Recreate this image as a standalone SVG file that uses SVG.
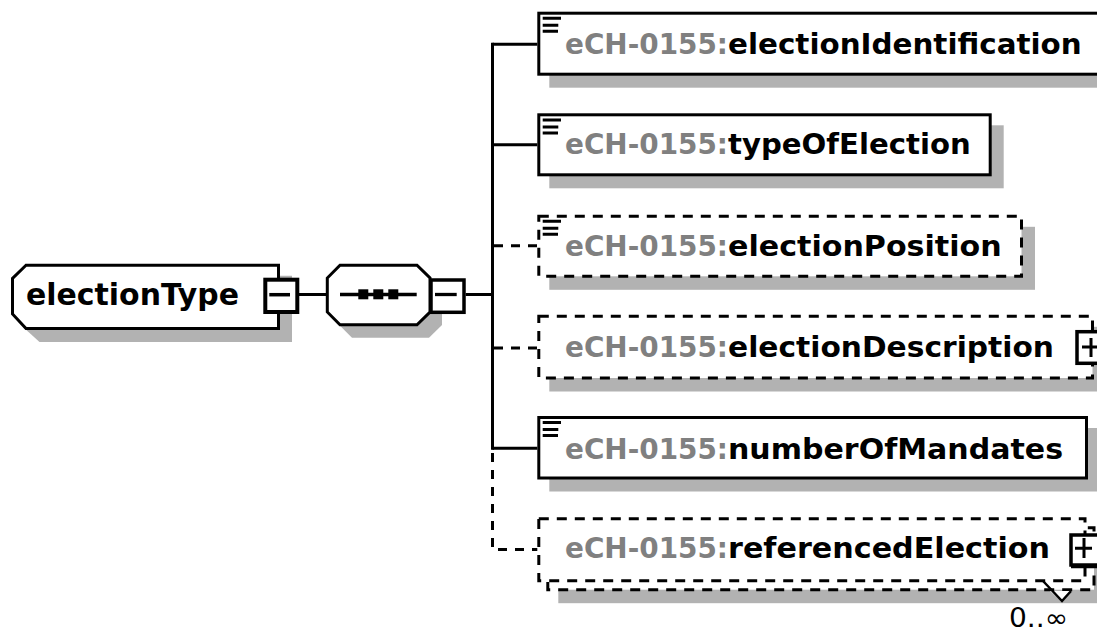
<svg xmlns="http://www.w3.org/2000/svg" width="1097" height="633" viewBox="0 0 1097 633">
<style>
.sh{fill:#b2b2b2;stroke:none}
.bx{fill:#fff;stroke:#000;stroke-width:3}
.opt{stroke-dasharray:10 8}
.ln{fill:none;stroke:#000;stroke-width:3}
.dl{fill:none;stroke:#000;stroke-width:3;stroke-dasharray:9 8}
.tb{fill:#fff;stroke:#000;stroke-width:3.5}
.t{font-family:"DejaVu Sans",Verdana,sans-serif;font-weight:bold;font-size:29px}
.pre{fill:#808080}
.nm{fill:#000}
.oc{font-family:"DejaVu Sans",Verdana,sans-serif;font-size:26px;fill:#000}
</style>
<defs>
<path id="ico" d="M542.7,18.3 H561 M542.7,25.3 H558.3 M542.7,31.3 H558" fill="none" stroke="#000" stroke-width="3"/>
</defs>
<rect width="1097" height="633" fill="#fff"/>

<g id="connectors">
<line class="ln" x1="299" y1="294.5" x2="327" y2="294.5"/>
<line class="ln" x1="465.7" y1="294.5" x2="492.5" y2="294.5"/>
<line class="ln" x1="492.5" y1="42.7" x2="492.5" y2="449.8"/>
<line class="ln" x1="492.5" y1="44.2" x2="537.3" y2="44.2"/>
<line class="ln" x1="492.5" y1="144.7" x2="537.3" y2="144.7"/>
<line class="dl" x1="494" y1="245.8" x2="537.3" y2="245.8"/>
<line class="dl" x1="494" y1="348" x2="537.3" y2="348"/>
<line class="ln" x1="492.5" y1="448.3" x2="537.3" y2="448.3"/>
<path class="dl" d="M492.5,453 V549.5 H537.3"/>
</g>

<g id="electionType">
<path class="sh" d="M39.5,275.8 L23,289.5 L23,327 L39.5,342 L292,342 L292,275.8 Z"/>
<path class="bx" d="M26,265.3 L12.5,278.5 L12.5,314 L26,328.5 L278.5,328.5 L278.5,265.3 Z"/>
<text class="t nm" x="26" y="305" textLength="213" lengthAdjust="spacingAndGlyphs" style="font-size:30px">electionType</text>
<rect x="265.3" y="279.7" width="32" height="32.3" fill="#fff" stroke="#000" stroke-width="4"/>
<line x1="269.3" y1="294.7" x2="290" y2="294.7" stroke="#000" stroke-width="3.5"/>
</g>

<g id="sequence">
<path class="sh" stroke="#b2b2b2" stroke-width="3" transform="translate(12,13)" d="M340,265.3 L417,265.3 L430,278 L430,312 L417,324.7 L340,324.7 L327.3,312 L327.3,278 Z"/>
<path class="bx" d="M340,265.3 L417,265.3 L430,278 L430,312 L417,324.7 L340,324.7 L327.3,312 L327.3,278 Z"/>
<line x1="340" y1="294.5" x2="416.7" y2="294.5" stroke="#000" stroke-width="3.3"/>
<rect x="358.3" y="289.3" width="10" height="10" fill="#000"/>
<rect x="373.3" y="289.3" width="10" height="10" fill="#000"/>
<rect x="388.3" y="289.3" width="10" height="10" fill="#000"/>
<rect class="tb" x="431" y="280" width="33" height="32.3"/>
<line x1="435" y1="294.5" x2="456.7" y2="294.5" stroke="#000" stroke-width="3.3"/>
</g>

<g id="electionIdentification">
<rect class="sh" x="549.3" y="23.7" width="600" height="64"/>
<rect class="bx" x="538.8" y="13.2" width="600" height="61"/>
<use href="#ico"/>
<text class="t" y="53.5"><tspan class="pre" x="565" textLength="163" lengthAdjust="spacingAndGlyphs">eCH-0155:</tspan><tspan class="nm" x="728" textLength="353.7" lengthAdjust="spacingAndGlyphs">electionIdentification</tspan></text>
</g>

<g id="typeOfElection">
<rect class="sh" x="549.3" y="125.3" width="454.4" height="63"/>
<rect class="bx" x="538.8" y="114.8" width="451.4" height="60"/>
<use href="#ico" transform="translate(0,101.6)"/>
<text class="t" y="154"><tspan class="pre" x="565" textLength="163" lengthAdjust="spacingAndGlyphs">eCH-0155:</tspan><tspan class="nm" x="728" textLength="242.7" lengthAdjust="spacingAndGlyphs">typeOfElection</tspan></text>
</g>

<g id="electionPosition">
<rect class="sh" x="549.3" y="226.8" width="485.7" height="63"/>
<rect class="bx opt" x="538.8" y="216.3" width="482.7" height="60"/>
<use href="#ico" transform="translate(0,203)"/>
<text class="t" y="256"><tspan class="pre" x="565" textLength="163" lengthAdjust="spacingAndGlyphs">eCH-0155:</tspan><tspan class="nm" x="728" textLength="273.7" lengthAdjust="spacingAndGlyphs">electionPosition</tspan></text>
</g>

<g id="electionDescription">
<rect class="sh" x="549.3" y="326.8" width="556.7" height="64.7"/>
<rect class="bx opt" x="538.8" y="316.3" width="553.7" height="61.7"/>
<text class="t" y="357.3"><tspan class="pre" x="565" textLength="163" lengthAdjust="spacingAndGlyphs">eCH-0155:</tspan><tspan class="nm" x="728" textLength="326" lengthAdjust="spacingAndGlyphs">electionDescription</tspan></text>
<rect class="tb" x="1077" y="331.7" width="31" height="31.6"/>
<path d="M1082,347 H1100 M1091,338 V357" stroke="#000" stroke-width="3" fill="none"/>
</g>

<g id="numberOfMandates">
<rect class="sh" x="549.3" y="428" width="550.7" height="63.5"/>
<rect class="bx" x="538.8" y="417.5" width="547.7" height="60.5"/>
<use href="#ico" transform="translate(0,404.3)"/>
<text class="t" y="459"><tspan class="pre" x="565" textLength="163" lengthAdjust="spacingAndGlyphs">eCH-0155:</tspan><tspan class="nm" x="728" textLength="335" lengthAdjust="spacingAndGlyphs">numberOfMandates</tspan></text>
</g>

<g id="referencedElection">
<rect class="sh" x="558.3" y="538.2" width="549.2" height="65"/>
<rect class="bx opt" x="547.8" y="527.7" width="546.2" height="62"/>
<rect class="bx opt" x="538.8" y="518.7" width="546.2" height="62"/>
<text class="t" y="557.5"><tspan class="pre" x="565" textLength="163" lengthAdjust="spacingAndGlyphs">eCH-0155:</tspan><tspan class="nm" x="728" textLength="322" lengthAdjust="spacingAndGlyphs">referencedElection</tspan></text>
<rect class="tb" x="1071" y="535" width="28" height="30"/>
<path d="M1075,548.3 H1092 M1084,538 V558" stroke="#000" stroke-width="3" fill="none"/>
<line x1="1071" y1="567" x2="1099" y2="567" stroke="#000" stroke-width="2.5"/>
<polygon points="1050,591 1072,591 1061,601" fill="#fff"/>
<polyline points="1043,581 1062,601 1071,591" fill="none" stroke="#000" stroke-width="2.5"/>
<text class="oc" x="1009" y="627" textLength="59" lengthAdjust="spacingAndGlyphs">0..∞</text>
</g>
</svg>
